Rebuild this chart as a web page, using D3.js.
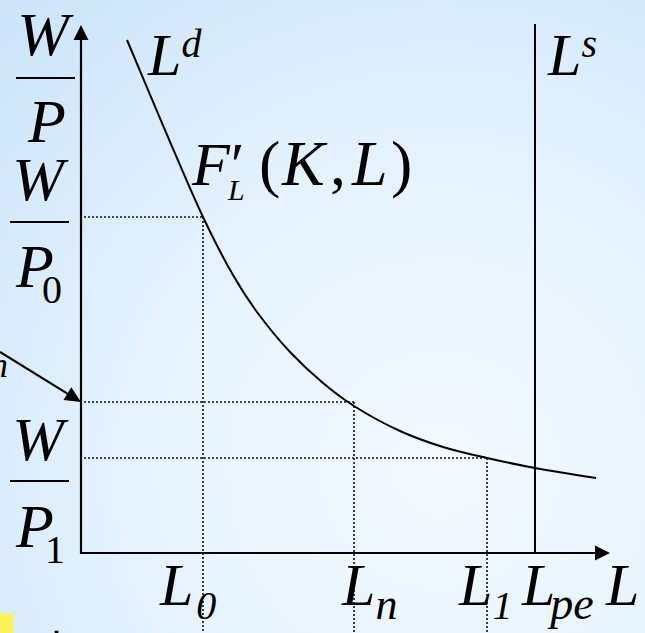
<!DOCTYPE html>
<html>
<head>
<meta charset="utf-8">
<script src="https://cdn.jsdelivr.net/npm/d3@7"></script>
<style>
  html, body { margin: 0; padding: 0; overflow: hidden; }
  svg { display: block; }
  text { font-family: "Liberation Serif", "Times New Roman", serif; fill: #000; }
</style>
</head>
<body>
<script>
// Labour market: demand curve F'_L(K,L) against a vertical supply L^s
const demandL = [8.70, 15.88, 23.06, 28.73, 33.27, 39.51, 45.75, 51.61, 60.30, 68.43, 76.75, 85.82, 97.35];
const demandW = [97.16, 80.11, 63.64, 52.65, 45.64, 38.07, 32.20, 27.84, 23.11, 20.08, 17.99, 16.10, 14.20];

// Real-wage levels and the employment they call for
const markNames = ["0", "n", "1"];
const markL = [23.06, 51.61, 76.75];
const markW = [63.64, 28.60, 18.00];

// Full-employment labour supply
const supplyL = 85.82;

const W = 645, H = 633;
const ox = 81, oy = 553;      // origin
const xEnd = 610, yEnd = 25;  // arrow tips

const x = d3.scaleLinear().domain([0, 100]).range([ox, xEnd]);
const y = d3.scaleLinear().domain([0, 100]).range([oy, yEnd]);

const svg = d3.select("body").append("svg").attr("width", W).attr("height", H);

// slide background
const defs = svg.append("defs");
const bg = defs.append("radialGradient").attr("id", "bg")
  .attr("gradientUnits", "userSpaceOnUse")
  .attr("cx", 440).attr("cy", 470).attr("r", 640);
bg.append("stop").attr("offset", "0").attr("stop-color", "#f4faff");
bg.append("stop").attr("offset", "0.45").attr("stop-color", "#e6f3fe");
bg.append("stop").attr("offset", "1").attr("stop-color", "#cbe4fa");
svg.append("rect").attr("width", W).attr("height", H).attr("fill", "url(#bg)");

// dotted guides
const g = svg.append("g");
markL.forEach((l, i) => {
  g.append("line")
    .attr("x1", ox + 3).attr("x2", x(l)).attr("y1", y(markW[i])).attr("y2", y(markW[i]))
    .attr("stroke", "#111").attr("stroke-width", 1.6).attr("stroke-dasharray", "2,2");
  g.append("line")
    .attr("x1", x(l)).attr("x2", x(l)).attr("y1", y(markW[i])).attr("y2", H)
    .attr("stroke", "#111").attr("stroke-width", 1.6).attr("stroke-dasharray", "2,2");
});

// axes
svg.append("path")
  .attr("d", `M${ox},${yEnd + 12}V${oy}H${xEnd - 12}`)
  .attr("fill", "none").attr("stroke", "#000").attr("stroke-width", 2.2);
svg.append("path")
  .attr("d", `M${ox},${yEnd}L${ox - 7.5},${yEnd + 15}L${ox + 7.5},${yEnd + 15}Z`)
  .attr("fill", "#000");
svg.append("path")
  .attr("d", `M${xEnd},${oy}L${xEnd - 15},${oy - 7.5}L${xEnd - 15},${oy + 7.5}Z`)
  .attr("fill", "#000");

// supply
svg.append("line")
  .attr("x1", x(supplyL)).attr("x2", x(supplyL)).attr("y1", 24).attr("y2", oy)
  .attr("stroke", "#000").attr("stroke-width", 2);

// demand curve
const line = d3.line().x(d => x(d[0])).y(d => y(d[1])).curve(d3.curveCatmullRom.alpha(0.5));
svg.append("path")
  .attr("d", line(demandL.map((l, i) => [l, demandW[i]])))
  .attr("fill", "none").attr("stroke", "#000").attr("stroke-width", 2);

// pointer to the W/P_n level
{
  const tx = ox, ty = y(markW[1]);
  const sx = 0, sy = ty - 50;
  const ang = Math.atan2(ty - sy, tx - sx);
  const len = 16, half = 7.5;
  const bx = tx - len * Math.cos(ang), by = ty - len * Math.sin(ang);
  svg.append("line").attr("x1", sx).attr("y1", sy).attr("x2", bx).attr("y2", by)
    .attr("stroke", "#000").attr("stroke-width", 2.2);
  svg.append("path")
    .attr("d", `M${tx},${ty}L${bx + half * Math.sin(ang)},${by - half * Math.cos(ang)}L${bx - half * Math.sin(ang)},${by + half * Math.cos(ang)}Z`)
    .attr("fill", "#000");
  svg.append("text").attr("x", 8).attr("y", 377).attr("text-anchor", "end")
    .attr("font-size", 36).attr("font-style", "italic").text("n");
}

// W/P fractions on the vertical axis
function frac(wx, topBase, barY, px, botBase, barX1, barX2, sub, subX) {
  svg.append("text").attr("x", wx).attr("y", topBase).attr("text-anchor", "middle")
    .attr("font-size", 62).attr("font-style", "italic").text("W");
  svg.append("line").attr("x1", barX1).attr("x2", barX2).attr("y1", barY).attr("y2", barY)
    .attr("stroke", "#000").attr("stroke-width", 2);
  svg.append("text").attr("x", px).attr("y", botBase)
    .attr("text-anchor", "middle").attr("font-size", 62).attr("font-style", "italic").text("P");
  if (sub) {
    svg.append("text").attr("x", subX).attr("y", botBase + 16)
      .attr("font-size", 40).text(sub);
  }
}
frac(43, 55, 78, 47, 142, 16, 75, null, 0);
frac(38, 200, 222, 35, 287, 10, 69, "0", 42);
frac(38, 460, 481, 35, 547, 10, 69, "1", 45);

// curve labels
function sym(xp, yp, main, sup, supDy) {
  const t = svg.append("text").attr("x", xp).attr("y", yp).attr("font-size", 60).attr("font-style", "italic");
  t.append("tspan").text(main);
  t.append("tspan").attr("font-size", 40).attr("dy", supDy).text(sup);
}
sym(148, 75, "L", "d", -18);
sym(548, 75, "L", "s", -18);

// F'_L(K,L)
{
  const put = (xp, yp, s, size, it) => svg.append("text").attr("x", xp).attr("y", yp)
    .attr("font-size", size).attr("font-style", it ? "italic" : "normal").text(s);
  put(192, 185, "F", 62, true);
  put(227, 185, "′", 62, true);
  put(228, 200, "L", 30, true);
  put(259, 185, "(", 64, false);
  put(282, 185, "K", 64, true);
  put(330, 185, ",", 64, false);
  put(352, 185, "L", 64, true);
  put(391, 185, ")", 64, false);
}

// employment labels under the horizontal axis
function lab(xp, sub, dx, size) {
  const t = svg.append("text").attr("x", xp).attr("y", 605).attr("font-size", 60).attr("font-style", "italic");
  t.append("tspan").text("L");
  if (sub) t.append("tspan").attr("font-size", size).attr("dx", dx).attr("dy", 14).text(sub);
}
const shift = [-43, -12, -28];
const subGap = [3, 0, 0];
const subSize = [40, 44, 40];
markL.forEach((l, i) => lab(x(l) + shift[i], markNames[i], subGap[i], subSize[i]));
lab(x(supplyL) - 13, "pe", -5, 46);
lab(606, null, 0, 0);

// bullet line of the slide below
svg.append("rect").attr("x", 0).attr("y", 613).attr("width", 13).attr("height", 20).attr("fill", "#fbf35a");
svg.append("text").attr("x", 40).attr("y", 659).attr("font-size", 34).attr("font-weight", "bold")
  .attr("font-family", "Noto Sans CJK SC").text("当W");
</script>
</body>
</html>
